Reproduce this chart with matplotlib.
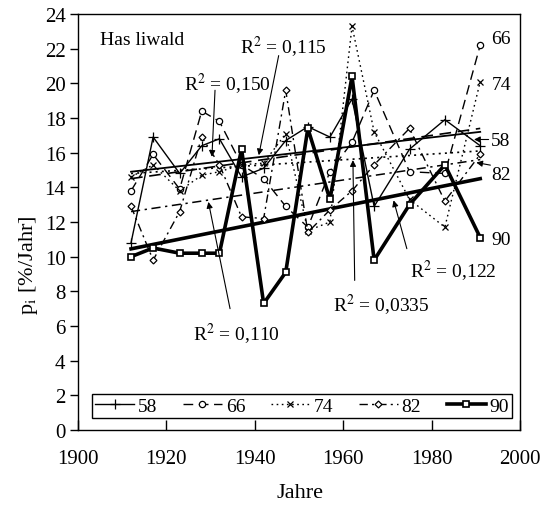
import matplotlib
matplotlib.use("Agg")
import matplotlib.pyplot as plt
from matplotlib.lines import Line2D

plt.rcParams['font.family'] = ['Liberation Serif', 'DejaVu Serif']
plt.rcParams['mathtext.fontset'] = 'stix'

# Messjahre und Zuwachsprozente p_i der Durchmesserklassen
years = [1912, 1917, 1923, 1928, 1932, 1937, 1942, 1947, 1952, 1957, 1962, 1967, 1975, 1983, 1991]
p58 = [10.8, 16.9, 14.8, 16.4, 16.8, 14.6, 15.1, 16.7, 17.5, 16.9, 19.1, 12.9, 16.2, 17.9, 16.4]
p66 = [13.8, 15.9, 13.9, 18.4, 17.8, 15.3, 14.5, 12.9, 11.7, 14.9, 16.6, 19.6, 14.9, 14.8, 22.2]
p74 = [14.6, 15.3, 13.8, 14.7, 14.9, 15.3, 15.4, 17.1, 11.5, 12.0, 23.3, 17.2, 13.3, 11.7, 20.1]
p82 = [12.9, 9.8, 12.6, 16.9, 15.3, 12.3, 12.2, 19.6, 11.4, 12.7, 13.8, 15.3, 17.4, 13.2, 15.9]
p90 = [10.0, 10.5, 10.2, 10.2, 10.2, 16.2, 7.3, 9.1, 17.4, 13.3, 20.4, 9.8, 13.0, 15.3, 11.1]

series_names = ['58', '66', '74', '82', '90']
series_values = [p58, p66, p74, p82, p90]

# Trendgeraden (Wert 1912 und 1991)
trend_years = [1912, 1991]
trend_start = [14.9, 14.5, 14.8, 12.6, 10.45]
trend_end = [17.2, 17.4, 16.1, 15.6, 14.5]

styles = {
    '58': dict(ls='-', marker='+', ms=7, lw=1.0, mfc='none'),
    '66': dict(ls=(0, (7, 4)), marker='o', ms=4.5, lw=1.0, mfc='white'),
    '74': dict(ls=(0, (1.2, 2.5)), marker='x', ms=5, lw=1.0, mfc='none'),
    '82': dict(ls=(0, (6, 3, 1.5, 3)), marker='D', ms=3.5, lw=1.0, mfc='white'),
    '90': dict(ls='-', marker='s', ms=5, lw=2.6, mfc='white', mew=1.2),
}
trend_lw = {'58': 1.3, '66': 1.2, '74': 1.2, '82': 1.1, '90': 2.6}

fig = plt.figure(figsize=(5.48, 5.06), dpi=100)
ax = fig.add_axes([78 / 548, 75 / 506, 442 / 548, 416 / 506])

for name, vals, t0, t1 in zip(series_names, series_values, trend_start, trend_end):
    st = styles[name]
    ax.plot(years, vals, color='black', linestyle=st['ls'], linewidth=st['lw'],
            marker=st['marker'], markersize=st['ms'], markerfacecolor=st['mfc'],
            markeredgecolor='black', markeredgewidth=st.get('mew', 0.9), zorder=3)
    ax.plot(trend_years, [t0, t1], color='black', linestyle=st['ls'],
            linewidth=trend_lw[name], zorder=2)

ax.set_xlim(1900, 2000)
ax.set_ylim(0, 24)
ax.set_xticks(range(1900, 2001, 20))
ax.set_yticks(range(0, 25, 2))
ax.tick_params(axis='x', direction='in', length=7, width=1, pad=14, labelsize=15)
ax.tick_params(axis='y', direction='out', length=6, width=1, pad=3, labelsize=15)
for sp in ax.spines.values():
    sp.set_linewidth(1.0)

fig.text(28 / 548, 1 - 265 / 506, r'p$_\mathrm{i}$ [%/Jahr]', rotation=90,
         ha='center', va='center', fontsize=16)
fig.text(300 / 548, 1 - 494 / 506, 'Jahre', ha='center', va='center', fontsize=16)

ax.text(1905, 22.5, 'Has liwald', ha='left', va='center', fontsize=14)

# R^2-Beschriftungen mit Pfeilen
r2_labels = [
    ('0,115', 1936.7, 21.78, (1945.4, 21.6), (1940.9, 15.85)),
    ('0,150', 1924.0, 19.67, (1931.0, 19.6), (1930.3, 15.76)),
    ('0,110', 1926.1, 5.22, (1934.4, 7.0), (1929.5, 13.16)),
    ('0,0335', 1957.8, 6.9, (1962.6, 8.63), (1962.2, 15.57)),
    ('0,122', 1975.2, 8.88, (1974.4, 10.46), (1971.4, 13.25)),
]
arrow = dict(arrowstyle='-|>', color='black', lw=0.8, mutation_scale=9,
             shrinkA=0, shrinkB=0)
for txt, tx, ty, tail, head in r2_labels:
    ax.text(tx, ty, r'R$^{2}$ = ' + txt, ha='left', va='baseline', fontsize=14)
    ax.annotate('', xy=head, xytext=tail, arrowprops=arrow)

# Klassenbeschriftungen rechts
right_labels = [('66', 22.35), ('74', 19.67), ('58', 16.43), ('82', 14.5), ('90', 10.75)]
for txt, ty in right_labels:
    ax.text(1993.5, ty, txt, ha='left', va='baseline', fontsize=14)
ax.annotate('', xy=(1989.6, 16.76), xytext=(1992.9, 16.76), arrowprops=arrow)
ax.annotate('', xy=(1990.1, 15.43), xytext=(1993.3, 15.28), arrowprops=arrow)

handles = []
for name in series_names:
    st = styles[name]
    handles.append(Line2D([0], [0], color='black', linestyle=st['ls'], linewidth=st['lw'],
                          marker=st['marker'], markersize=st['ms'], markerfacecolor=st['mfc'],
                          markeredgecolor='black', markeredgewidth=st.get('mew', 0.9)))
leg = ax.legend(handles, series_names, ncol=5, loc='lower left',
                bbox_to_anchor=(0.032, 0.029, 0.95, 0.065), mode='expand',
                fontsize=14, handlelength=2.0, handletextpad=0.2, borderpad=0.15,
                borderaxespad=0, columnspacing=1.0, fancybox=False, framealpha=1)
leg.get_frame().set_edgecolor('black')
leg.get_frame().set_linewidth(1.0)

fig.savefig('out.png', dpi=100)
